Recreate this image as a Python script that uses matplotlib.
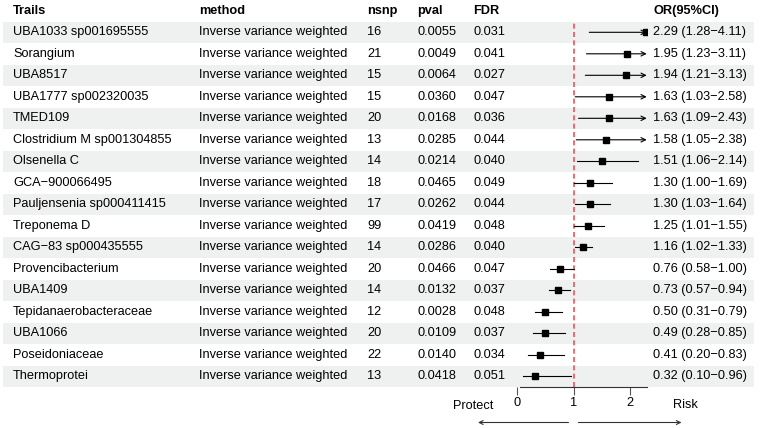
import matplotlib.pyplot as plt
import matplotlib.transforms as mtrans
from matplotlib.patches import Rectangle

plt.rcParams['font.family'] = ['Liberation Sans', 'DejaVu Sans']

# Data
trails = ["UBA1033 sp001695555", "Sorangium", "UBA8517", "UBA1777 sp002320035",
          "TMED109", "Clostridium M sp001304855", "Olsenella C", "GCA\u2212900066495",
          "Pauljensenia sp000411415", "Treponema D", "CAG\u221283 sp000435555",
          "Provencibacterium", "UBA1409", "Tepidanaerobacteraceae", "UBA1066",
          "Poseidoniaceae", "Thermoprotei"]
method = ["Inverse variance weighted"] * len(trails)
nsnp = [16, 21, 15, 15, 20, 13, 14, 18, 17, 99, 14, 20, 14, 12, 20, 22, 13]
pval = [0.0055, 0.0049, 0.0064, 0.0360, 0.0168, 0.0285, 0.0214, 0.0465, 0.0262,
        0.0419, 0.0286, 0.0466, 0.0132, 0.0028, 0.0109, 0.0140, 0.0418]
fdr = [0.031, 0.041, 0.027, 0.047, 0.036, 0.044, 0.040, 0.049, 0.044,
       0.048, 0.040, 0.047, 0.037, 0.048, 0.037, 0.034, 0.051]
or_est = [2.29, 1.95, 1.94, 1.63, 1.63, 1.58, 1.51, 1.30, 1.30,
          1.25, 1.16, 0.76, 0.73, 0.50, 0.49, 0.41, 0.32]
ci_low = [1.28, 1.23, 1.21, 1.03, 1.09, 1.05, 1.06, 1.00, 1.03,
          1.01, 1.02, 0.58, 0.57, 0.31, 0.28, 0.20, 0.10]
ci_high = [4.11, 3.11, 3.13, 2.58, 2.43, 2.38, 2.14, 1.69, 1.64,
           1.55, 1.33, 1.00, 0.94, 0.79, 0.85, 0.83, 0.96]
x_ticks = [0, 1, 2]
x_lim = (0, 2.3)

W, H = 767, 428
fig = plt.figure(figsize=(W / 100, H / 100), dpi=100)

# layout in pixels
row_h = 21.5
row0 = 32.3
n = len(trails)
top = row0 - row_h / 2
bottom = row0 + (n - 1) * row_h + row_h / 2
fs = 9.2

# table axes in pixel coordinates
tab = fig.add_axes([0, 0, 1, 1])
tab.set_xlim(0, W)
tab.set_ylim(H, 0)
tab.axis('off')

cols = [13, 199, 367, 417, 473, 653]
headers = ["Trails", "method", "nsnp", "pval", "FDR", "OR(95%CI)"]
for x, h in zip(cols, headers):
    tab.text(x, row0 - row_h, h, fontsize=fs, fontweight='bold', va='center', ha='left')

for i in range(n):
    y = row0 + i * row_h
    if i % 2 == 0:
        tab.add_patch(Rectangle((3, y - row_h / 2), 751, row_h, color='#eff1f0', lw=0, zorder=0))
    vals = [trails[i], method[i], str(nsnp[i]), f"{pval[i]:.4f}", f"{fdr[i]:.3f}",
            f"{or_est[i]:.2f} ({ci_low[i]:.2f}\u2212{ci_high[i]:.2f})"]
    for x, v in zip(cols, vals):
        tab.text(x, y, v, fontsize=fs, va='center', ha='left')

# forest axes
px0, px_per = 517.2, 56.3
left = px0
right = px0 + x_lim[1] * px_per
ax = fig.add_axes([left / W, 1 - bottom / H, (right - left) / W, (bottom - top) / H])
ax.patch.set_alpha(0)
ax.set_xlim(*x_lim)
ax.set_ylim(n + 0.5, 0.5)
for s in ['top', 'left', 'right']:
    ax.spines[s].set_visible(False)
ax.spines['bottom'].set_bounds(0.05, x_lim[1])
ax.spines['bottom'].set_color('#333333')
ax.spines['bottom'].set_linewidth(0.8)
ax.set_yticks([])
ax.set_xticks(x_ticks)
ax.tick_params(axis='x', length=5.5, width=0.8, color='#555555', pad=2, labelsize=fs)

ax.axvline(1, color='#f0525a', ls=(0, (3, 2)), lw=1.2, zorder=1)

for i in range(n):
    y = i + 1
    lo = max(ci_low[i], x_lim[0])
    hi = ci_high[i]
    if hi > x_lim[1]:
        ax.annotate('', xy=(x_lim[1], y), xytext=(lo, y),
                    arrowprops=dict(arrowstyle='->', lw=0.8, color='black',
                                    shrinkA=0, shrinkB=0, mutation_scale=8), zorder=2)
    else:
        ax.plot([lo, hi], [y, y], color='black', lw=0.8, zorder=2)
    ax.plot(or_est[i], y, marker='s', color='black', ms=4.3, zorder=3)

# direction labels
tr = mtrans.blended_transform_factory(ax.transData, fig.transFigure)
ax.text((473 - px0) / px_per, 1 - 406 / H, "Protect", transform=tr, fontsize=fs,
        ha='center', va='center')
ax.text((685 - px0) / px_per, 1 - 405 / H, "Risk", transform=tr, fontsize=fs,
        ha='center', va='center')
ay = 1 - 422.5 / H
ax.annotate('', xy=((478 - px0) / px_per, ay), xytext=((568.5 - px0) / px_per, ay),
            xycoords=tr, textcoords=tr,
            arrowprops=dict(arrowstyle='->', lw=0.8, color='#333333',
                            shrinkA=0, shrinkB=0, mutation_scale=7))
ax.annotate('', xy=((681.5 - px0) / px_per, ay), xytext=((578.5 - px0) / px_per, ay),
            xycoords=tr, textcoords=tr,
            arrowprops=dict(arrowstyle='->', lw=0.8, color='#333333',
                            shrinkA=0, shrinkB=0, mutation_scale=7))

fig.savefig("out.png", dpi=100)
